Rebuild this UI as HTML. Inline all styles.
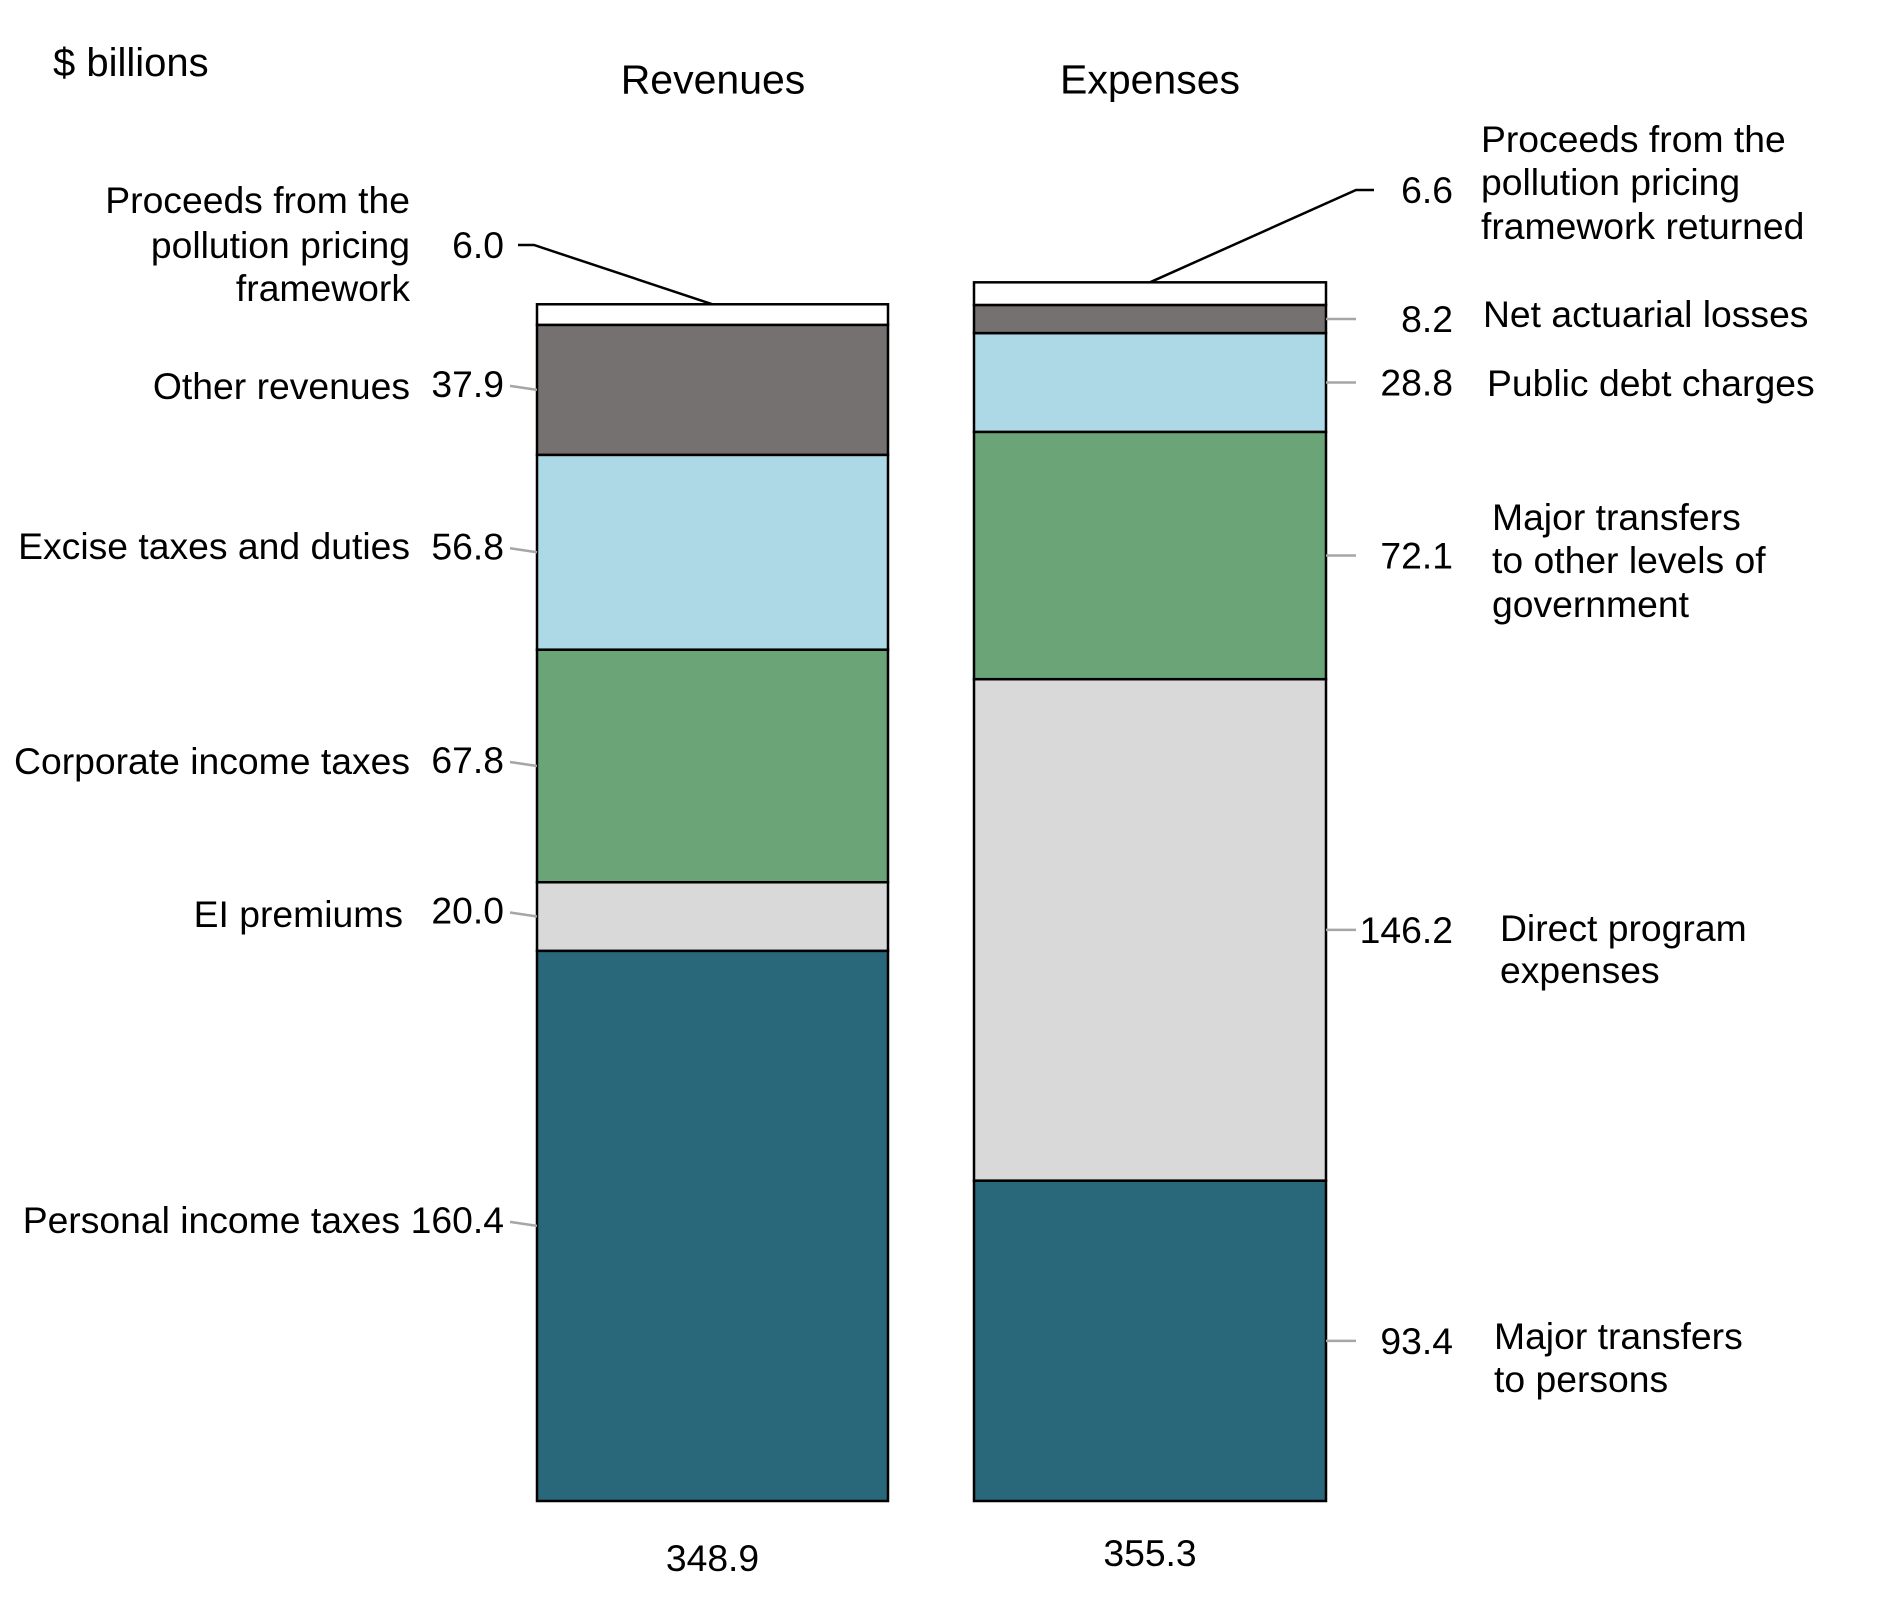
<!DOCTYPE html>
<html><head><meta charset="utf-8"><style>
html,body{margin:0;padding:0;background:#fff}
svg{display:block}
text{font-family:"Liberation Sans",Arial,sans-serif;font-size:37.3px;fill:#000}
</style></head><body>
<svg id="chart" width="1881" height="1616" viewBox="0 0 1881 1616" xmlns="http://www.w3.org/2000/svg">
<text x="53" y="62" dy=".35em" style="font-size:40px">$ billions</text>
<text x="713" y="79" dy=".35em" text-anchor="middle" style="font-size:41px">Revenues</text>
<text x="1150" y="79" dy=".35em" text-anchor="middle" style="font-size:41px">Expenses</text>
<g id="bars"></g>
<g id="labels" text-anchor="end">
<text x="410" y="200" dy=".35em">Proceeds from the</text>
<text x="410" y="245" dy=".35em">pollution pricing</text>
<text x="410" y="288" dy=".35em">framework</text>
<text x="410" y="386" dy=".35em">Other revenues</text>
<text x="410" y="546" dy=".35em">Excise taxes and duties</text>
<text x="410" y="761" dy=".35em">Corporate income taxes</text>
<text x="403" y="914" dy=".35em">EI premiums</text>
<text x="400" y="1220" dy=".35em">Personal income taxes</text>
</g>
<g id="rlabels">
<text x="1481" y="139" dy=".35em">Proceeds from the</text>
<text x="1481" y="182" dy=".35em">pollution pricing</text>
<text x="1481" y="226" dy=".35em">framework returned</text>
<text x="1483" y="314" dy=".35em">Net actuarial losses</text>
<text x="1487" y="383" dy=".35em">Public debt charges</text>
<text x="1492" y="517" dy=".35em">Major transfers</text>
<text x="1492" y="560" dy=".35em">to other levels of</text>
<text x="1492" y="604" dy=".35em">government</text>
<text x="1500" y="928" dy=".35em">Direct program</text>
<text x="1500" y="970" dy=".35em">expenses</text>
<text x="1494" y="1336" dy=".35em">Major transfers</text>
<text x="1494" y="1379" dy=".35em">to persons</text>
</g>
</svg>
<script>
const revNames = ["personal-income-taxes","ei-premiums","corporate-income-taxes","excise-taxes","other-revenues","rev-pollution-proceeds"];
const revValues = [160.4, 20.0, 67.8, 56.8, 37.9, 6.0];
const expNames = ["transfers-to-persons","direct-program-expenses","transfers-to-governments","public-debt-charges","net-actuarial-losses","exp-pollution-proceeds"];
const expValues = [93.4, 146.2, 72.1, 28.8, 8.2, 6.6];
const segColors = ["#29687A","#D9D9D9","#6BA476","#ADD8E6","#767171","#FFFFFF"];

const NS = "http://www.w3.org/2000/svg";
const base = 1501, k = 3.43;
const yScale = v => base - v * k;
const g = document.getElementById("bars");
function mk(tag, attrs){ const e = document.createElementNS(NS, tag); for (const a in attrs) e.setAttribute(a, attrs[a]); return e; }

function drawStack(names, values, colors, x0, x1, side){
  let cum = 0; const mids = [];
  values.forEach((v, i) => {
    const yTop = yScale(cum + v), yBot = yScale(cum);
    const r = mk("rect", {x: x0, y: yTop, width: x1 - x0, height: yBot - yTop, fill: colors[i], stroke: "#000", "stroke-width": 2.5});
    
    
    g.appendChild(r);
    mids.push([(yTop + yBot) / 2, yTop]);
    cum += v;
  });
  values.forEach((v, i) => {
    const ym = mids[i][0];
    if (i === values.length - 1) {
      const topY = mids[i][1];
      const cx = (x0 + x1) / 2;
      let pts, tx, anchor, ty;
      if (side === "left") { ty = 245; pts = `${cx},${topY} 534,${ty} 518,${ty}`; tx = 504; anchor = "end"; }
      else { ty = 190; pts = `${cx},${topY} 1356,${ty} 1374,${ty}`; tx = 1453; anchor = "end"; }
      const l = mk("polyline", {points: pts, fill: "none", stroke: "#000", "stroke-width": 2.5});
      
      
      g.appendChild(l);
      const t = mk("text", {x: tx, y: ty, dy: ".35em", "text-anchor": anchor});
      t.textContent = v.toFixed(1);
      
      
      g.appendChild(t);
      return;
    }
    let line, t;
    if (side === "left") {
      line = mk("line", {x1: 510, y1: ym - 4, x2: x0, y2: ym, stroke: "#A6A6A6", "stroke-width": 2.5});
      t = mk("text", {x: 504, y: ym - 6, dy: ".35em", "text-anchor": "end"});
    } else {
      line = mk("line", {x1: x1, y1: ym, x2: 1356, y2: ym, stroke: "#A6A6A6", "stroke-width": 2.5});
      t = mk("text", {x: 1453, y: ym, dy: ".35em", "text-anchor": "end"});
    }
    
    
    g.appendChild(line);
    t.textContent = v.toFixed(1);
    
    
    g.appendChild(t);
  });
  const total = values.reduce((a, b) => a + b, 0);
  const tt = mk("text", {x: (x0 + x1) / 2, y: side === "left" ? 1558 : 1553, dy: ".35em", "text-anchor": "middle"});
  tt.textContent = total.toFixed(1);
  
  
  g.appendChild(tt);
}
drawStack(revNames, revValues, segColors, 537, 888, "left");
drawStack(expNames, expValues, segColors, 974, 1326, "right");
</script>
</body></html>
